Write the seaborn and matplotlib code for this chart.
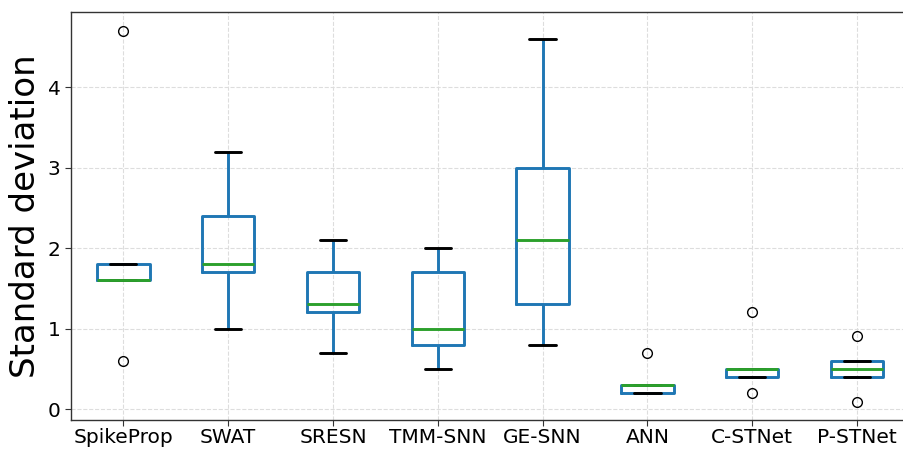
import numpy as np
import pandas as pd
import seaborn as sns
import matplotlib.pyplot as plt

models = ["SpikeProp", "SWAT", "SRESN", "TMM-SNN", "GE-SNN", "ANN", "C-STNet", "P-STNet"]
spikeprop = [0.6, 1.6, 1.6, 1.6, 1.8, 1.8, 4.7]
swat = [1.0, 1.7, 1.8, 2.4, 3.2]
sresn = [0.7, 1.2, 1.3, 1.7, 2.1]
tmm_snn = [0.5, 0.8, 1.0, 1.7, 2.0]
ge_snn = [0.8, 1.3, 2.1, 3.0, 4.6]
ann = [0.2, 0.2, 0.2, 0.3, 0.3, 0.3, 0.7]
c_stnet = [0.2, 0.4, 0.4, 0.5, 0.5, 0.5, 1.2]
p_stnet = [0.09, 0.4, 0.4, 0.5, 0.6, 0.6, 0.91]

samples = [spikeprop, swat, sresn, tmm_snn, ge_snn, ann, c_stnet, p_stnet]
df = pd.DataFrame({
    "model": [m for m, s in zip(models, samples) for _ in s],
    "std": [v for s in samples for v in s],
})

sns.set_style("ticks")
plt.rcParams["font.family"] = ["DejaVu Sans"]

fig = plt.figure(figsize=(9.04, 4.5), dpi=100)
ax = fig.add_axes([0.0785, 0.066, 1.006 - 0.0785, 0.9727 - 0.066])

blue = "#1f77b4"
sns.boxplot(data=df, x="model", y="std", order=models, ax=ax,
            fill=False, width=0.5, linewidth=2.1,
            boxprops=dict(color=blue, linewidth=2.1),
            whiskerprops=dict(color=blue, linewidth=2.1),
            capprops=dict(color="black", linewidth=2.1),
            medianprops=dict(color="#2ca02c", linewidth=2.1),
            flierprops=dict(marker="o", markerfacecolor="none",
                            markeredgecolor="black", markersize=7,
                            markeredgewidth=1))

ax.set_xlim(-0.5, 7.5)
ax.set_ylim(-0.14, 4.93)
ax.set_yticks([0, 1, 2, 3, 4])
ax.grid(True, linestyle="--", color="#dddddd", linewidth=0.8)
ax.set_axisbelow(True)
ax.set_xlabel("")
ax.set_ylabel("Standard deviation", fontsize=24.5, color="black")
ax.tick_params(labelsize=14.5, length=4, color="#333333", labelcolor="black")
ax.tick_params(axis="x", pad=1.5)
for sp in ax.spines.values():
    sp.set_color("#333333")
    sp.set_linewidth(1)

fig.savefig("out.png", dpi=100)
